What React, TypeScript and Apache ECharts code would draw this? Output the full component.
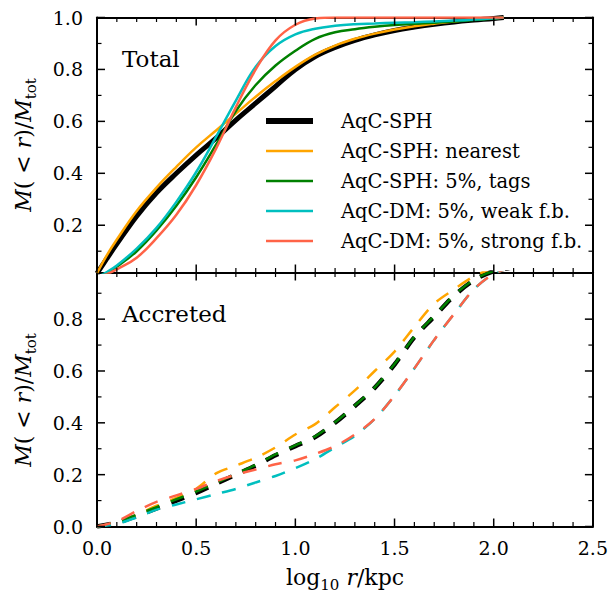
import React, { useEffect, useRef } from 'react';
import * as echarts from 'echarts';

const SERIF = "'DejaVu Serif', 'Liberation Serif', serif";

const seriesNames = [
  'AqC-SPH',
  'AqC-SPH: nearest',
  'AqC-SPH: 5%, tags',
  'AqC-DM: 5%, weak f.b.',
  'AqC-DM: 5%, strong f.b.',
];
const seriesColors = ['#000000', '#FFA500', '#008000', '#00BFBF', '#FF6347'];
const seriesWidths = [5, 2.5, 2.5, 2.5, 2.5];
const dashedWidths = [4.5, 2.5, 2.5, 2.5, 2.5];

const xMajorTicks = [0, 0.5, 1.0, 1.5, 2.0, 2.5];
const xMinorTicks = [0.1, 0.2, 0.3, 0.4, 0.6, 0.7, 0.8, 0.9, 1.1, 1.2, 1.3, 1.4, 1.6, 1.7, 1.8, 1.9, 2.1, 2.2, 2.3, 2.4];
const topYTicks = [0.2, 0.4, 0.6, 0.8, 1.0];
const topYMinor = [0.1, 0.3, 0.5, 0.7, 0.9];
const botYTicks = [0.0, 0.2, 0.4, 0.6, 0.8];
const botYMinor = [0.1, 0.3, 0.5, 0.7, 0.9];

// Total (top panel)
const totalX = [0, 0.05, 0.1, 0.2, 0.3, 0.4, 0.5, 0.6, 0.7, 0.8, 0.9, 1.0, 1.1, 1.2, 1.3, 1.4, 1.5, 1.6, 1.7, 1.8, 1.9, 2.0, 2.05];
const totalSPH = [0.015, 0.072, 0.128, 0.235, 0.325, 0.4, 0.47, 0.535, 0.605, 0.67, 0.735, 0.8, 0.85, 0.885, 0.912, 0.933, 0.95, 0.963, 0.974, 0.983, 0.99, 0.996, 1];
const totalNearest = [0.015, 0.085, 0.145, 0.255, 0.345, 0.425, 0.5, 0.565, 0.63, 0.695, 0.755, 0.81, 0.857, 0.892, 0.918, 0.938, 0.954, 0.966, 0.976, 0.985, 0.992, 0.997, 1];
const totalTags = [0, 0.015, 0.04, 0.1, 0.18, 0.275, 0.385, 0.51, 0.64, 0.74, 0.815, 0.872, 0.918, 0.943, 0.955, 0.964, 0.971, 0.976, 0.98, 0.985, 0.99, 0.996, 1];
const totalWeak = [0, 0.02, 0.045, 0.11, 0.19, 0.29, 0.405, 0.54, 0.68, 0.81, 0.89, 0.935, 0.957, 0.968, 0.974, 0.977, 0.98, 0.982, 0.985, 0.988, 0.992, 0.997, 1];
const totalStrong = [0, 0.012, 0.03, 0.075, 0.15, 0.24, 0.355, 0.495, 0.655, 0.8, 0.912, 0.972, 0.996, 1, 1, 1, 1, 1, 1, 1, 1, 1, 1];

// Accreted (bottom panel)
const accX = [0, 0.1, 0.2, 0.3, 0.4, 0.5, 0.6, 0.7, 0.8, 0.9, 1.0, 1.1, 1.2, 1.3, 1.4, 1.5, 1.6, 1.7, 1.8, 1.9, 2.0, 2.1];
const accSPH = [0, 0.015, 0.04, 0.07, 0.1, 0.13, 0.165, 0.2, 0.235, 0.275, 0.31, 0.345, 0.4, 0.465, 0.535, 0.625, 0.73, 0.81, 0.89, 0.95, 0.985, 1];
const accNearest = [0, 0.015, 0.045, 0.08, 0.11, 0.145, 0.205, 0.235, 0.265, 0.305, 0.355, 0.395, 0.46, 0.525, 0.6, 0.675, 0.77, 0.86, 0.915, 0.965, 0.995, 1];
const accTags = [0, 0.017, 0.045, 0.075, 0.105, 0.135, 0.168, 0.203, 0.238, 0.278, 0.313, 0.348, 0.402, 0.467, 0.537, 0.627, 0.732, 0.812, 0.892, 0.952, 0.986, 1];
const accWeak = [0, 0.01, 0.035, 0.065, 0.085, 0.105, 0.125, 0.145, 0.17, 0.195, 0.225, 0.26, 0.305, 0.35, 0.415, 0.505, 0.61, 0.72, 0.82, 0.915, 0.975, 1];
const accStrong = [0, 0.02, 0.06, 0.095, 0.12, 0.145, 0.175, 0.2, 0.22, 0.24, 0.255, 0.28, 0.31, 0.355, 0.415, 0.505, 0.61, 0.72, 0.82, 0.915, 0.975, 1];

const totalSeries = [totalSPH, totalNearest, totalTags, totalWeak, totalStrong];
const accSeries = [accSPH, accNearest, accTags, accWeak, accStrong];

const GRID_LEFT = 97;
const GRID_WIDTH = 496;
const TOP_TOP = 17.5;
const TOP_H = 255;
const BOT_TOP = TOP_TOP + TOP_H;
const BOT_H = 254;
const TOP_MIN = 0.018;
const BOT_MAX = 0.98;

const fmt = (v: number) => v.toFixed(1);

function xAxisDef(gridIndex: number, position: string, labels: boolean) {
  return {
    type: 'value',
    gridIndex,
    position,
    min: 0,
    max: 2.5,
    interval: 0.5,
    axisLine: { show: true, onZero: false, lineStyle: { color: '#000', width: 2 } },
    axisTick: { show: false },
    minorTick: { show: false },
    axisLabel: {
      show: labels,
      formatter: fmt,
      margin: 12,
      color: '#000',
      fontFamily: SERIF,
      fontSize: 19,
    },
    splitLine: { show: false },
    minorSplitLine: { show: false },
  };
}

function yAxisDef(gridIndex: number, position: string, min: number, max: number, ticks: number[], labels: boolean) {
  return {
    type: 'value',
    gridIndex,
    position,
    min,
    max,
    axisLine: { show: true, onZero: false, lineStyle: { color: '#000', width: 2 } },
    axisTick: { show: false },
    axisLabel: {
      show: labels,
      customValues: ticks,
      formatter: fmt,
      margin: 14,
      color: '#000',
      fontFamily: SERIF,
      fontSize: 19,
    },
    splitLine: { show: false },
  };
}

export default function App() {
  const ref = useRef<HTMLDivElement>(null);

  useEffect(() => {
    if (!ref.current) return;
    const chart = echarts.init(ref.current, undefined, { renderer: 'svg' });

    const series: any[] = [];
    seriesNames.forEach((name, i) => {
      series.push({
        name, type: 'line', xAxisIndex: 0, yAxisIndex: 0,
        data: totalX.map((x, k) => [x, totalSeries[i][k]]),
        showSymbol: false, symbol: 'none', smooth: 0.4,
        lineStyle: { color: seriesColors[i], width: seriesWidths[i], type: 'solid' },
        itemStyle: { color: seriesColors[i] }, z: 2 + i,
      });
    });
    seriesNames.forEach((name, i) => {
      series.push({
        name, type: 'line', xAxisIndex: 2, yAxisIndex: 2,
        data: accX.map((x, k) => [x, accSeries[i][k]]),
        showSymbol: false, symbol: 'none', smooth: 0.3,
        lineStyle: { color: seriesColors[i], width: dashedWidths[i], type: [14, 12] },
        itemStyle: { color: seriesColors[i] }, z: 2 + i,
      });
    });

    const yRich = {
      i: { fontStyle: 'italic', fontFamily: SERIF, fontSize: 22, lineHeight: 30, color: '#000' },
      s: { fontFamily: SERIF, fontSize: 15, lineHeight: 15, verticalAlign: 'bottom', color: '#000' },
    };

    const textGraphics: any[] = [
      { type: 'text', x: 122, y: 59, style: { text: 'Total', fontFamily: SERIF, fontSize: 23, fill: '#000', align: 'left', verticalAlign: 'middle' } },
      { type: 'text', x: 122, y: 314, style: { text: 'Accreted', fontFamily: SERIF, fontSize: 23, fill: '#000', align: 'left', verticalAlign: 'middle' } },
      { type: 'text', x: 23, y: 145, rotation: Math.PI / 2,
        style: { text: '{i|M}( < {i|r})/{i|M}{s|tot}', rich: yRich, fontFamily: SERIF, fontSize: 22, lineHeight: 30, fill: '#000', align: 'center', verticalAlign: 'middle' } },
      { type: 'text', x: 23, y: 400, rotation: Math.PI / 2,
        style: { text: '{i|M}( < {i|r})/{i|M}{s|tot}', rich: yRich, fontFamily: SERIF, fontSize: 22, lineHeight: 30, fill: '#000', align: 'center', verticalAlign: 'middle' } },
      { type: 'text', x: 345, y: 577,
        style: { text: 'log{s|10} {i|r}/kpc', rich: yRich, fontFamily: SERIF, fontSize: 22, lineHeight: 30, fill: '#000', align: 'center', verticalAlign: 'middle' } },
    ];

    const option: any = {
      animation: false,
      backgroundColor: '#fff',
      grid: [
        { left: GRID_LEFT, top: TOP_TOP, width: GRID_WIDTH, height: TOP_H },
        { left: GRID_LEFT, top: BOT_TOP, width: GRID_WIDTH, height: BOT_H },
      ],
      xAxis: [
        xAxisDef(0, 'bottom', false),
        xAxisDef(0, 'top', false),
        xAxisDef(1, 'bottom', true),
        xAxisDef(1, 'top', false),
      ],
      yAxis: [
        yAxisDef(0, 'left', TOP_MIN, 1.0, topYTicks, true),
        yAxisDef(0, 'right', TOP_MIN, 1.0, topYTicks, false),
        yAxisDef(1, 'left', 0, BOT_MAX, botYTicks, true),
        yAxisDef(1, 'right', 0, BOT_MAX, botYTicks, false),
      ],
      legend: {
        orient: 'vertical', left: 263, top: 111, padding: 0,
        itemWidth: 47, itemHeight: 20, itemGap: 10, selectedMode: false,
        textStyle: { fontFamily: SERIF, fontSize: 19.5, color: '#000', padding: [0, 0, 0, 23] },
        data: seriesNames.map((n, i) => ({
          name: n,
          itemStyle: { opacity: 0 },
          lineStyle: { width: i === 0 ? 6 : 2.5, color: seriesColors[i], type: 'solid' },
        })),
      },
      graphic: textGraphics,
      series,
    };

    chart.setOption(option);

    // Tick marks as thin filled rectangles, placed through the chart's own axis scales
    const tickEls: any[] = [];
    const addRect = (x: number, y: number, w: number, h: number) => {
      tickEls.push({
        type: 'rect',
        z: 50,
        shape: { x, y, width: w, height: h },
        style: { fill: '#000', stroke: null },
      });
    };
    const panels = [
      { xi: 0, yi: 0, ymin: TOP_MIN, ymax: 1.0, major: topYTicks, minor: topYMinor },
      { xi: 2, yi: 2, ymin: 0, ymax: BOT_MAX, major: botYTicks, minor: botYMinor },
    ];
    panels.forEach((p) => {
      const px = (v: number) => chart.convertToPixel({ xAxisIndex: p.xi } as any, v) as number;
      const py = (v: number) => chart.convertToPixel({ yAxisIndex: p.yi } as any, v) as number;
      const left = px(0);
      const right = px(2.5);
      const top = py(p.ymax);
      const bottom = py(p.ymin);
      if (![left, right, top, bottom].every((n) => typeof n === 'number' && isFinite(n))) return;
      const xTick = (v: number, len: number, w: number) => {
        const x = px(v);
        addRect(x - w / 2, bottom - len, w, len);
        addRect(x - w / 2, top, w, len);
      };
      const yTick = (v: number, len: number, w: number) => {
        const y = py(v);
        addRect(left, y - w / 2, len, w);
        addRect(right - len, y - w / 2, len, w);
      };
      xMajorTicks.forEach((v) => xTick(v, 8, 1.5));
      xMinorTicks.forEach((v) => xTick(v, 4.5, 1.2));
      p.major.forEach((v) => yTick(v, 8, 1.5));
      p.minor.forEach((v) => yTick(v, 4.5, 1.2));
    });

    chart.setOption({ graphic: [...textGraphics, ...tickEls] });

    return () => chart.dispose();
  }, []);

  return <div ref={ref} style={{ position: 'fixed', left: 0, top: 0, width: 611, height: 597, background: '#fff' }} />;
}
